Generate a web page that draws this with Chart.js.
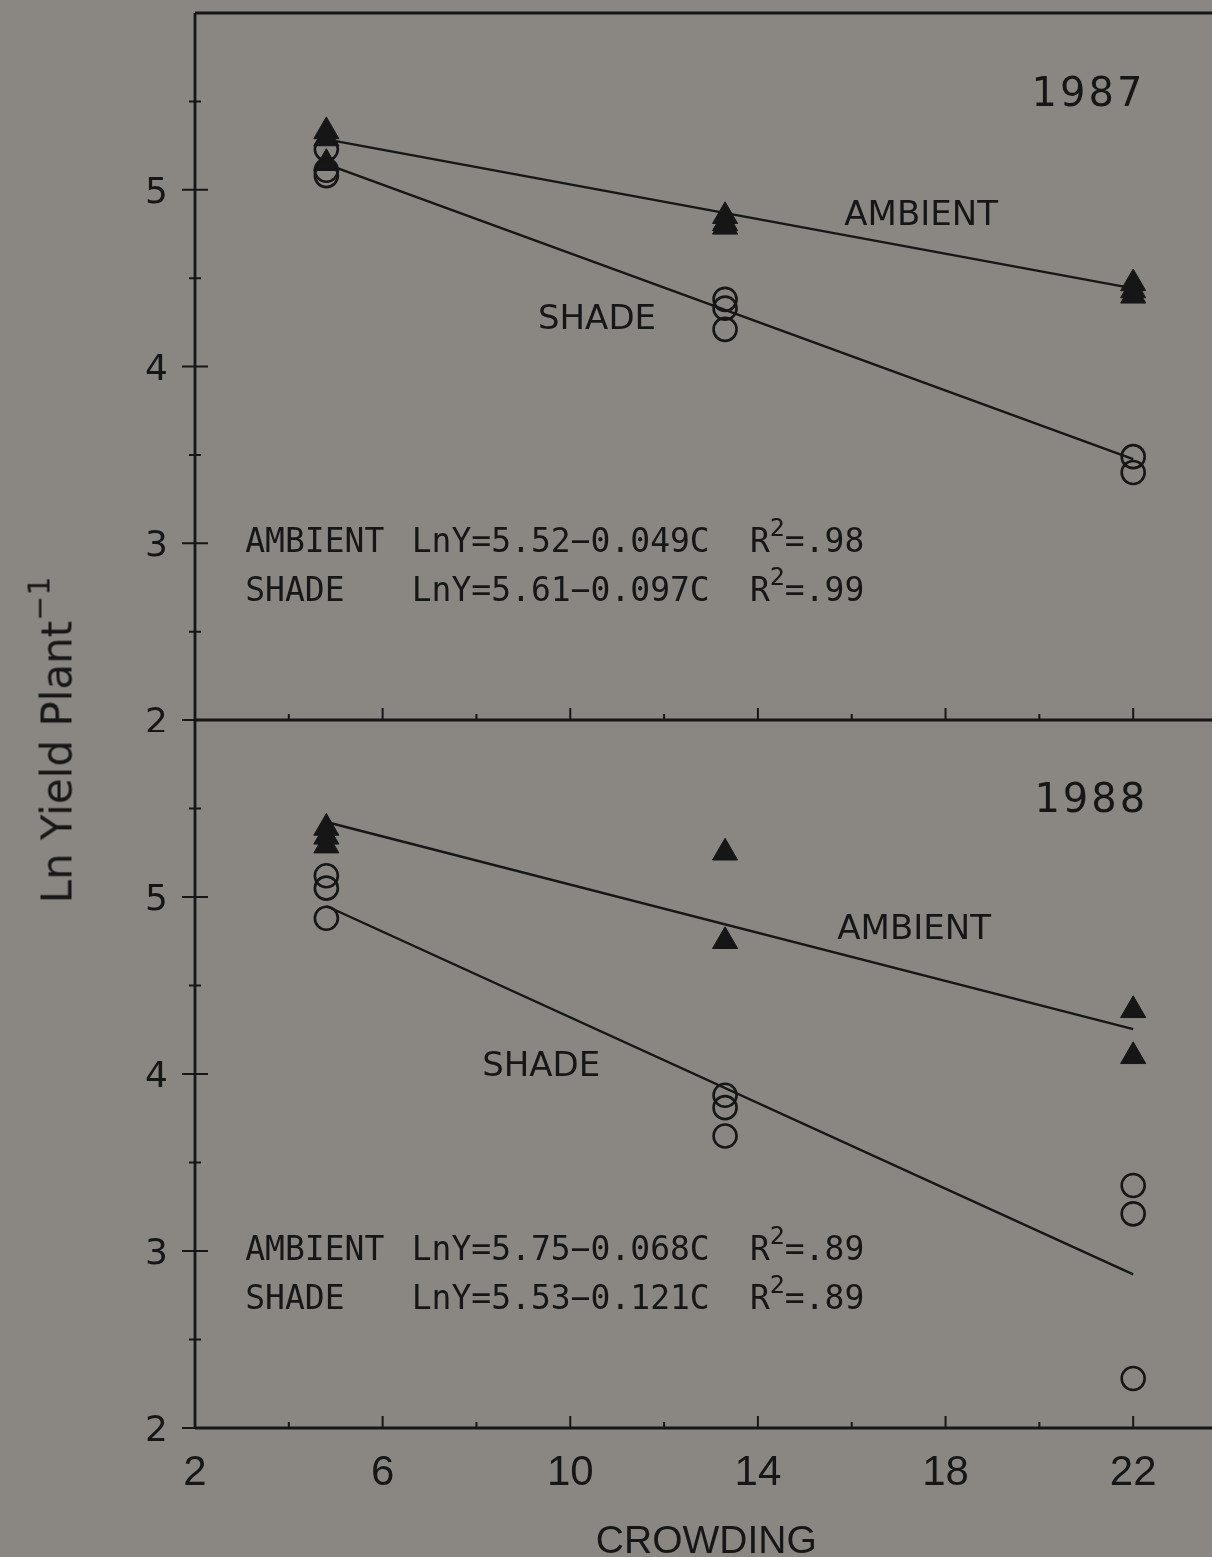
<!DOCTYPE html>
<html>
<head>
<meta charset="utf-8">
<script src="https://cdn.jsdelivr.net/npm/chart.js@4.4.1/dist/chart.umd.min.js"></script>
<style>
  html, body { margin: 0; padding: 0; background: #8a8782; width: 1212px; height: 1557px; overflow: hidden; }
  #wrap { position: relative; width: 1212px; height: 1557px; }
  canvas { position: absolute; left: 0; }
  #top { top: 0; }
  #bottom { top: 712px; }
  #ytitle {
    position: absolute; left: 57px; top: 740px;
    transform: translate(-50%, -50%) rotate(-90deg);
    white-space: nowrap; font-family: 'DejaVu Sans'; font-size: 42px; color: #161616;
  }
  #ytitle sup { font-size: 30px; vertical-align: 0; position: relative; top: -22px; }
</style>
</head>
<body>
<div id="wrap">
  <canvas id="top" width="1230" height="732"></canvas>
  <canvas id="bottom" width="1230" height="845"></canvas>
  <div id="ytitle">Ln Yield Plant<sup>−1</sup></div>
</div>
<script>
// Crowding levels (x) and replicate ln yields per plant at each level
const crowding = [4.8, 13.3, 22];
const ambient1987 = [[5.33, 5.29, 5.15], [4.85, 4.81, 4.79], [4.47, 4.43, 4.40]];
const shade1987   = [[5.23, 5.11, 5.08], [4.38, 4.33, 4.21], [3.49, 3.40]];
const ambient1988 = [[5.39, 5.34, 5.29], [5.25, 4.75], [4.36, 4.10]];
const shade1988   = [[5.12, 5.05, 4.88], [3.88, 3.81, 3.65], [3.37, 3.21, 2.28]];

// Regression fits: [intercept, slope magnitude, R^2]
const ambientFit1987 = [5.52, 0.049, 0.98];
const shadeFit1987   = [5.61, 0.097, 0.99];
const ambientFit1988 = [5.75, 0.068, 0.89];
const shadeFit1988   = [5.53, 0.121, 0.89];
const fitRange = [4.8, 22];

// Axis labelling
const yTickLabels = [2, 3, 4, 5];
const xTickLabels = [2, 6, 10, 14, 18, 22];
const xTitle = 'CROWDING';

const ink = '#161616';

function points(groups) {
  const out = [];
  groups.forEach((ys, i) => ys.forEach(y => out.push({ x: crowding[i], y })));
  return out;
}
function fitLine(f) {
  return fitRange.map(c => ({ x: c, y: f[0] - f[1] * c }));
}
function eqText(f) {
  return 'LnY=' + f[0].toFixed(2) + '\u2212' + f[1].toFixed(3) + 'C';
}
function r2Text(f) {
  return '=' + f[2].toFixed(2).replace(/^0/, '');
}

// Axis lines, crossing / inward tick marks, tick labels and in-plot text
function framePlugin(cfg) {
  return {
    id: 'frame',
    afterDraw(chart) {
      const { ctx, chartArea: a, scales: { x, y } } = chart;
      ctx.save();
      ctx.strokeStyle = ink;
      ctx.fillStyle = ink;
      ctx.lineCap = 'butt';
      ctx.lineWidth = 2.8;
      ctx.beginPath();
      ctx.moveTo(a.left, a.top); ctx.lineTo(a.left, a.bottom);
      ctx.moveTo(a.left, a.bottom); ctx.lineTo(a.right, a.bottom);
      if (cfg.topBorder) { ctx.moveTo(a.left, a.top); ctx.lineTo(a.right, a.top); }
      ctx.stroke();

      ctx.lineWidth = 2;
      ctx.beginPath();
      y.ticks.forEach(t => {
        if (t.value >= 6) return;
        const py = y.getPixelForValue(t.value);
        const len = Number.isInteger(t.value) ? 13 : 6;
        ctx.moveTo(a.left - len, py); ctx.lineTo(a.left + len, py);
      });
      x.ticks.forEach(t => {
        if (t.value <= 2) return;
        const px = x.getPixelForValue(t.value);
        const len = xTickLabels.includes(t.value) ? 12 : 6;
        ctx.moveTo(px, a.bottom); ctx.lineTo(px, a.bottom - len);
      });
      ctx.stroke();

      // y tick labels
      ctx.textBaseline = 'alphabetic';
      ctx.textAlign = 'right';
      ctx.font = '36px "DejaVu Sans"';
      y.ticks.forEach(t => {
        if (!yTickLabels.includes(t.value)) return;
        ctx.fillText(String(t.value), a.left - 27, y.getPixelForValue(t.value) + 13);
      });

      // x tick labels and axis title (lower panel only)
      if (cfg.xLabels) {
        ctx.textAlign = 'center';
        ctx.font = '42px "Liberation Sans"';
        x.ticks.forEach(t => {
          if (!xTickLabels.includes(t.value)) return;
          ctx.fillText(String(t.value), x.getPixelForValue(t.value), a.bottom + 57);
        });
        ctx.font = '39px "Liberation Sans"';
        ctx.fillText(xTitle, x.getPixelForValue(12.9), a.bottom + 125);
      }

      ctx.textBaseline = 'middle';
      // year
      ctx.font = '40px "DejaVu Sans"';
      ctx.letterSpacing = '3px';
      ctx.textAlign = 'right';
      ctx.fillText(cfg.year, x.getPixelForValue(cfg.yearPos[0]), y.getPixelForValue(cfg.yearPos[1]));
      ctx.letterSpacing = '0px';
      // series labels
      ctx.font = '34px "DejaVu Sans"';
      ctx.textAlign = 'center';
      ctx.fillText('AMBIENT', x.getPixelForValue(cfg.ambPos[0]), y.getPixelForValue(cfg.ambPos[1]));
      ctx.fillText('SHADE', x.getPixelForValue(cfg.shPos[0]), y.getPixelForValue(cfg.shPos[1]));
      // equation table
      ctx.textAlign = 'left';
      const rows = [['AMBIENT', cfg.ambFit], ['SHADE', cfg.shFit]];
      rows.forEach((r, i) => {
        const py = y.getPixelForValue(cfg.rowY[i]);
        ctx.font = '33px "DejaVu Sans Mono"';
        ctx.fillText(r[0], x.getPixelForValue(3.07), py);
        ctx.fillText(eqText(r[1]), x.getPixelForValue(6.62), py);
        let px = x.getPixelForValue(13.83);
        ctx.fillText('R', px, py);
        px += ctx.measureText('R').width;
        ctx.font = '25px "DejaVu Sans Mono"';
        ctx.fillText('2', px, py - 14);
        px += ctx.measureText('2').width;
        ctx.font = '33px "DejaVu Sans Mono"';
        ctx.fillText(r2Text(r[1]), px, py);
      });
      ctx.restore();
    }
  };
}

function panel(id, amb, sh, ambFit, shFit, cfg, isBottom) {
  new Chart(document.getElementById(id), {
    type: 'scatter',
    data: {
      datasets: [
        { data: points(sh), pointStyle: 'circle', pointRadius: 11.5, backgroundColor: 'rgba(0,0,0,0)', borderColor: ink, borderWidth: 2.6 },
        { data: points(amb), pointStyle: 'triangle', pointRadius: 14.5, backgroundColor: ink, borderColor: ink, borderWidth: 1 },
        { data: fitLine(ambFit), type: 'line', showLine: true, borderColor: ink, borderWidth: 2.4, pointRadius: 0, fill: false },
        { data: fitLine(shFit), type: 'line', showLine: true, borderColor: ink, borderWidth: 2.4, pointRadius: 0, fill: false }
      ]
    },
    options: {
      responsive: false,
      animation: false,
      devicePixelRatio: 1,
      layout: {
        autoPadding: false,
        padding: { top: isBottom ? 8 : 13, bottom: isBottom ? 129 : 12, left: 195, right: 3 }
      },
      plugins: { legend: { display: false }, tooltip: { enabled: false } },
      scales: {
        x: { type: 'linear', min: 2, max: 24, display: false, ticks: { stepSize: 2 } },
        y: { type: 'linear', min: 2, max: 6, display: false, ticks: { stepSize: 0.5 } }
      }
    },
    plugins: [framePlugin(Object.assign({ ambFit, shFit, xLabels: isBottom }, cfg))]
  });
}

panel('top', ambient1987, shade1987, ambientFit1987, shadeFit1987, {
  year: '1987', yearPos: [22.26, 5.53], ambPos: [17.48, 4.85], shPos: [10.57, 4.26],
  rowY: [3.0, 2.72], topBorder: true
}, false);

panel('bottom', ambient1988, shade1988, ambientFit1988, shadeFit1988, {
  year: '1988', yearPos: [22.32, 5.54], ambPos: [17.33, 4.81], shPos: [9.38, 4.04],
  rowY: [3.0, 2.72], topBorder: false
}, true);
</script>
</body>
</html>
